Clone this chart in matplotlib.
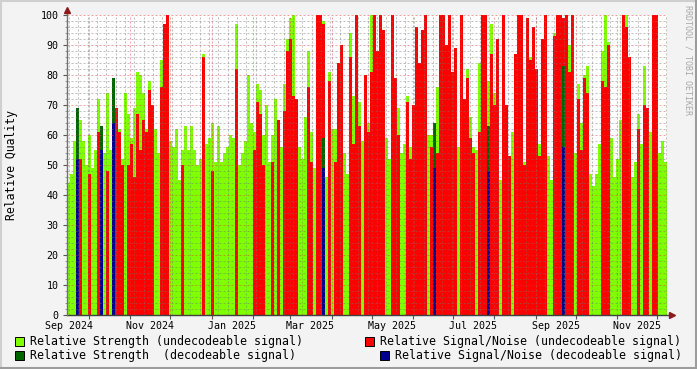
"""
RRD style quality graph: relative strength and signal/noise per time step.
"""
import numpy as np
import pandas as pd
import matplotlib
matplotlib.use('Agg')
import matplotlib.pyplot as plt
import matplotlib.dates as mdates
from matplotlib.patches import Rectangle
from matplotlib.lines import Line2D

# one value per consolidation step (54h), starting mid Sep 2024
start = '2024-09-14 12:00'
step = '54h'

strength_undec = [
    44, 47, 58, 53, 65, 58, 50, 60, 49, 55, 72, 54, 54, 74, 55, 52, 65, 62, 52, 74,
    67, 59, 69, 81, 80, 74, 62, 78, 68, 62, 54, 85, 85, 81, 58, 56, 62, 45, 55, 63,
    55, 63, 55, 50, 52, 87, 57, 59, 64, 51, 63, 51, 54, 56, 60, 59, 97, 50, 54, 58,
    80, 64, 61, 77, 75, 60, 70, 51, 60, 72, 64, 56, 77, 92, 99, 100, 56, 56, 52, 66,
    88, 61, 49, 88, 65, 98, 46, 81, 62, 62, 64, 54, 54, 47, 94, 73, 71, 71, 58, 64,
    64, 100, 45, 50, 78, 48, 59, 52, 57, 76, 69, 54, 57, 73, 56, 46, 61, 53, 47, 78,
    60, 60, 62, 76, 58, 69, 58, 58, 58, 63, 56, 56, 48, 82, 66, 56, 55, 84, 56, 56,
    78, 97, 74, 59, 45, 100, 51, 44, 61, 56, 71, 55, 51, 59, 86, 72, 76, 57, 52, 59,
    53, 45, 94, 76, 43, 60, 82, 90, 72, 54, 77, 64, 80, 83, 47, 43, 47, 57, 88, 100,
    91, 59, 46, 52, 65, 59, 100, 79, 46, 51, 67, 57, 83, 60, 61, 89, 48, 54, 58, 51,
]
snr_undec = [
    0, 0, 0, 0, 52, 0, 0, 47, 0, 0, 61, 0, 0, 48, 0, 0, 69, 61, 50, 0,
    50, 57, 46, 67, 55, 65, 61, 75, 70, 0, 0, 76, 97, 100, 0, 0, 0, 0, 50, 0,
    0, 0, 0, 0, 0, 86, 0, 0, 48, 0, 0, 0, 0, 0, 0, 0, 82, 0, 0, 0,
    0, 0, 55, 71, 67, 50, 0, 0, 51, 0, 65, 0, 68, 88, 92, 73, 72, 0, 0, 0,
    76, 51, 0, 100, 100, 97, 0, 78, 0, 51, 84, 90, 0, 0, 86, 57, 100, 63, 0, 80,
    61, 81, 100, 88, 100, 95, 0, 0, 100, 79, 60, 0, 0, 71, 52, 70, 96, 84, 95, 100,
    0, 56, 0, 54, 100, 100, 90, 100, 81, 89, 0, 100, 72, 79, 59, 54, 0, 61, 100, 100,
    0, 87, 70, 92, 0, 100, 70, 53, 0, 87, 100, 100, 50, 99, 85, 96, 82, 53, 92, 100,
    0, 0, 93, 100, 100, 99, 100, 81, 100, 0, 72, 55, 79, 74, 0, 0, 0, 0, 78, 76,
    90, 0, 0, 0, 0, 100, 96, 86, 0, 0, 62, 0, 70, 69, 0, 100, 100, 0, 0, 0,
]
# the few steps with a decodeable signal
dec_steps = [3, 11, 15, 85, 122, 140, 165]
strength_dec_vals = [69, 63, 79, 59, 64, 63, 83]
snr_dec_vals = [52, 55, 64, 49, 49, 48, 56]

n = len(strength_undec)
edges = pd.date_range(start, periods=n + 1, freq=step)
xe = mdates.date2num(edges.to_pydatetime())

strength_dec = np.zeros(n)
strength_dec[dec_steps] = strength_dec_vals
snr_dec = np.zeros(n)
snr_dec[dec_steps] = snr_dec_vals

W, H = 697, 369
mono = 'DejaVu Sans Mono'
fig = plt.figure(figsize=(W / 100, H / 100), dpi=100, facecolor='#f3f3f3')
ax = fig.add_axes([67 / W, 54 / H, 600 / W, 300 / H])
ax.set_facecolor('white')

ax.stairs(strength_undec, xe, fill=True, color='#7fff00', lw=0, zorder=2)
ax.stairs(snr_undec, xe, fill=True, color='#ff0000', lw=0, zorder=3)
ax.stairs(strength_dec, xe, fill=True, color='#006400', lw=0, zorder=4)
ax.stairs(snr_dec, xe, fill=True, color='#000090', lw=0, zorder=5)

ax.set_xlim(xe[0], xe[-1])
ax.set_ylim(0, 100)

# grid on top of the areas, like rrdtool
minor_c = (0.45, 0.45, 0.45, 0.45)
major_c = (0.9, 0.2, 0.2, 0.45)
for v in range(2, 101, 2):
    ax.axhline(v, color=major_c if v % 10 == 0 else minor_c, lw=0.72,
               dashes=(2, 2), zorder=6)
weeks = pd.date_range('2024-09-16', edges[-1], freq='W-MON')
months = pd.date_range('2024-10-01', edges[-1], freq='MS')
for d in weeks:
    ax.axvline(mdates.date2num(d), color=minor_c, lw=0.72, dashes=(2, 2), zorder=6)
for d in months:
    ax.axvline(mdates.date2num(d), color=major_c, lw=0.72, dashes=(2, 2), zorder=6)

ax.set_xticks(mdates.date2num(months.to_pydatetime()))
ax.set_xticklabels([])
label_dates = pd.date_range('2024-09-01', '2025-11-30', freq='2MS') + pd.Timedelta(days=15)
ax.set_xticks(mdates.date2num(label_dates.to_pydatetime()), minor=True)
ax.set_xticklabels([d.strftime('%b %Y') for d in label_dates], minor=True,
                   family=mono, fontsize=7.2)
ax.tick_params(axis='x', which='major', length=3, color='#555555')
ax.tick_params(axis='x', which='minor', length=0, pad=4)

ax.set_yticks(range(0, 101, 10))
ax.set_yticks(range(0, 101, 2), minor=True)
ax.set_yticklabels([str(v) for v in range(0, 101, 10)], family=mono, fontsize=7.2)
ax.tick_params(axis='y', which='major', length=3, color='#555555', pad=3)
ax.tick_params(axis='y', which='minor', length=1.5, color='#888888')

for s in ax.spines.values():
    s.set_visible(False)
ax.plot([0, 1.008], [0, 0], transform=ax.transAxes, color='#404040', lw=1,
        clip_on=False, zorder=7)
ax.plot([0, 0], [0, 1.015], transform=ax.transAxes, color='#707070', lw=1,
        clip_on=False, zorder=7)
ax.plot(1.009, 0, marker='>', ms=4, color='#8b1a1a', transform=ax.transAxes,
        clip_on=False, zorder=8)
ax.plot(0, 1.017, marker='^', ms=4, color='#8b1a1a', transform=ax.transAxes,
        clip_on=False, zorder=8)

fig.text(12 / W, 1 - 165 / H, 'Relative Quality', rotation=90, ha='center',
         va='center', family=mono, fontsize=8.3)
fig.text(688 / W, 1 - 60 / H, 'RRDTOOL / TOBI OETIKER', rotation=270, ha='center',
         va='center', family=mono, fontsize=6, color='#a8a8a8')


def legend_item(x, y, color, text):
    fig.add_artist(Rectangle((x / W, 1 - (y + 4.5) / H), 9 / W, 9 / H,
                             facecolor=color, edgecolor='black', lw=0.7,
                             transform=fig.transFigure))
    fig.text((x + 15) / W, 1 - y / H, text, va='center', family=mono, fontsize=8.4)


legend_item(15, 341, '#7fff00', 'Relative Strength (undecodeable signal)')
legend_item(15, 355, '#006400', 'Relative Strength  (decodeable signal)')
legend_item(365, 341, '#ff0000', 'Relative Signal/Noise (undecodeable signal)')
legend_item(380, 355, '#000090', 'Relative Signal/Noise (decodeable signal)')

# rrdtool style frame
fig.add_artist(Line2D([0, 1], [1 - 1 / H, 1 - 1 / H], color='#cfcfcf', lw=1.5))
fig.add_artist(Line2D([1 / W, 1 / W], [0, 1], color='#cfcfcf', lw=1.5))
fig.add_artist(Line2D([1 - 1.5 / W, 1 - 1.5 / W], [0, 1], color='#9c9c9c', lw=2.2))
fig.add_artist(Line2D([0, 1], [1.5 / H, 1.5 / H], color='#9c9c9c', lw=2.2))

fig.savefig('out.png', dpi=100, facecolor=fig.get_facecolor())
